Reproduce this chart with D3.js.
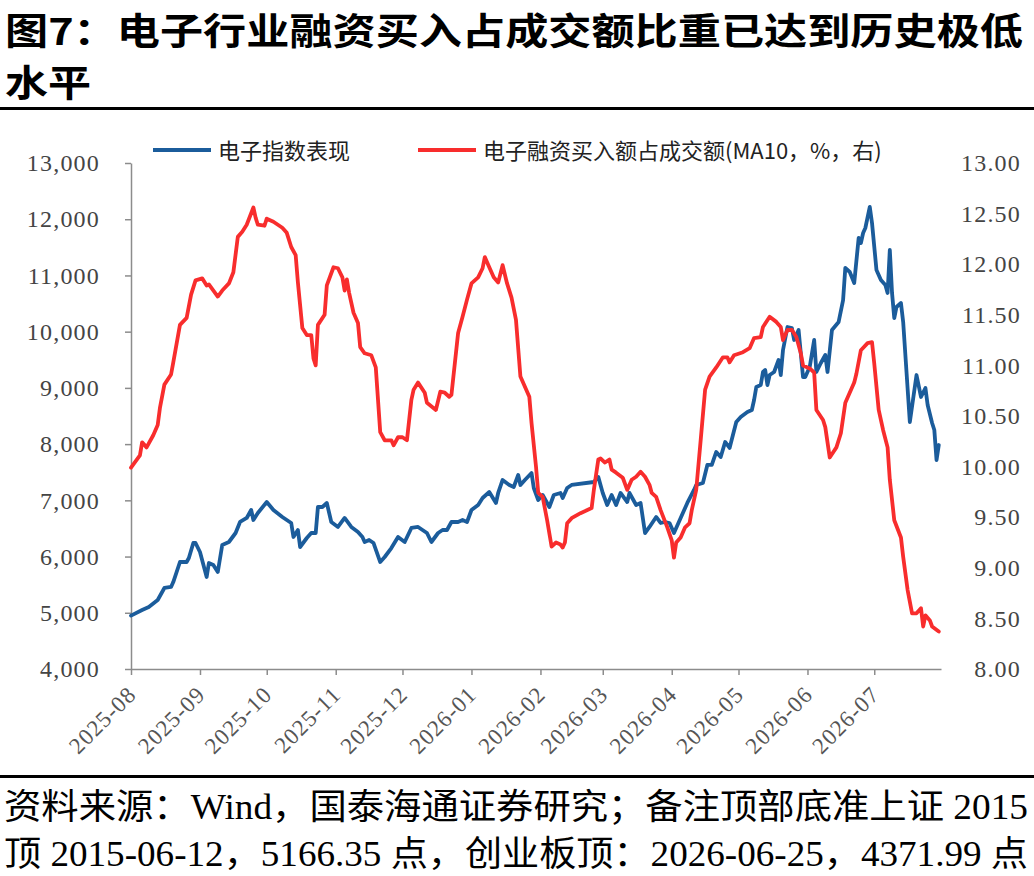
<!DOCTYPE html>
<html><head><meta charset="utf-8">
<script src="https://cdn.jsdelivr.net/npm/d3@7"></script>
<style>body{margin:0;background:#fff}svg{display:block}</style>
</head><body>
<svg id="c" width="1034" height="876"></svg>
<script>
const titleLines = ["图7：电子行业融资买入占成交额比重已达到历史极低", "水平"];
const legendLabels = ["电子指数表现", "电子融资买入额占成交额(MA10，%，右)"];
const footerLines = ["资料来源：Wind，国泰海通证券研究；备注顶部底准上证 2015", "顶 2015-06-12，5166.35 点，创业板顶：2026-06-25，4371.99 点"];
const leftTicks = [4000,5000,6000,7000,8000,9000,10000,11000,12000,13000];
const rightTicks = [8,8.5,9,9.5,10,10.5,11,11.5,12,12.5,13];
const monthTicks = ["2025-08-01","2025-09-01","2025-10-01","2025-11-01","2025-12-01","2026-01-01","2026-02-01","2026-03-01","2026-04-01","2026-05-01","2026-06-01","2026-07-01"];
const dateRange = ["2025-08-01","2026-07-31"];

const indexSeries = [
["2025-08-01",4950],["2025-08-06",5049],["2025-08-09",5103],["2025-08-13",5227],["2025-08-16",5441],["2025-08-19",5459],["2025-08-20",5547],["2025-08-23",5903],["2025-08-26",5903],["2025-08-27",5974],["2025-08-29",6241],["2025-08-30",6241],
["2025-09-01",6081],["2025-09-04",5636],["2025-09-05",5885],["2025-09-07",5850],["2025-09-09",5725],["2025-09-11",6206],["2025-09-14",6259],["2025-09-17",6419],["2025-09-19",6615],["2025-09-22",6686],["2025-09-24",6828],["2025-09-25",6650],["2025-09-27",6775],
["2025-10-01",6970],["2025-10-04",6828],["2025-10-08",6704],["2025-10-12",6597],["2025-10-13",6348],["2025-10-15",6472],["2025-10-16",6170],["2025-10-19",6330],["2025-10-21",6419],["2025-10-23",6419],["2025-10-24",6881],["2025-10-26",6881],["2025-10-28",6953],["2025-10-30",6615],
["2025-11-02",6526],["2025-11-05",6686],["2025-11-08",6526],["2025-11-11",6437],["2025-11-13",6348],["2025-11-14",6259],["2025-11-16",6295],["2025-11-18",6241],["2025-11-21",5903],["2025-11-23",5992],["2025-11-26",6152],["2025-11-29",6348],
["2025-12-02",6259],["2025-12-05",6508],["2025-12-08",6526],["2025-12-10",6472],["2025-12-12",6419],["2025-12-14",6259],["2025-12-17",6419],["2025-12-19",6472],["2025-12-21",6472],["2025-12-23",6615],["2025-12-26",6615],["2025-12-28",6650],["2025-12-30",6615],
["2026-01-01",6828],["2026-01-04",6917],["2026-01-06",7042],["2026-01-09",7148],["2026-01-12",6953],["2026-01-13",7131],["2026-01-15",7362],["2026-01-18",7273],["2026-01-20",7237],["2026-01-22",7451],["2026-01-23",7273],["2026-01-25",7362],["2026-01-28",7486],["2026-01-29",7219],["2026-01-31",7006],
["2026-02-02",7095],["2026-02-05",6881],["2026-02-07",7095],["2026-02-10",7131],["2026-02-11",7042],["2026-02-13",7219],["2026-02-15",7273],["2026-02-25",7326],["2026-02-27",7415],
["2026-03-01",7131],["2026-03-03",6917],["2026-03-05",7095],["2026-03-07",6917],["2026-03-09",7131],["2026-03-12",6970],["2026-03-13",7131],["2026-03-16",6917],["2026-03-18",6953],["2026-03-20",6419],["2026-03-22",6526],["2026-03-25",6704],["2026-03-27",6597],["2026-03-29",6615],["2026-03-31",6597],
["2026-04-02",6419],["2026-04-05",6686],["2026-04-08",6953],["2026-04-11",7184],["2026-04-12",7273],["2026-04-15",7308],["2026-04-17",7629],["2026-04-19",7629],["2026-04-21",7860],["2026-04-23",7771],["2026-04-25",8038],["2026-04-27",7931],["2026-04-30",8393],
["2026-05-02",8482],["2026-05-05",8571],["2026-05-07",8607],["2026-05-08",8785],["2026-05-09",9016],["2026-05-11",9051],["2026-05-12",9283],["2026-05-13",9318],["2026-05-14",9051],["2026-05-15",9229],["2026-05-17",9283],["2026-05-19",9496],["2026-05-20",9229],["2026-05-21",9674],["2026-05-23",10083],["2026-05-25",10065],["2026-05-26",9852],["2026-05-28",10030],["2026-05-30",9194],["2026-05-31",9194],
["2026-06-02",9372],["2026-06-04",9852],["2026-06-05",9283],["2026-06-07",9443],["2026-06-09",9585],["2026-06-10",9283],["2026-06-12",10030],["2026-06-15",10172],["2026-06-17",10563],["2026-06-18",11133],["2026-06-20",11061],["2026-06-22",10866],["2026-06-24",11666],["2026-06-25",11577],["2026-06-26",11755],["2026-06-27",11844],["2026-06-29",12218],["2026-06-30",11933],
["2026-07-02",11097],["2026-07-04",10919],["2026-07-06",10830],["2026-07-07",10688],["2026-07-08",11453],["2026-07-09",10688],["2026-07-10",10243],["2026-07-11",10439],["2026-07-13",10510],["2026-07-14",10172],["2026-07-17",8393],["2026-07-20",9229],["2026-07-22",8838],["2026-07-24",8998],["2026-07-25",8696],["2026-07-27",8376],["2026-07-28",8251],["2026-07-29",7717],["2026-07-30",7984]
];

const marginSeries = [
["2025-08-01",9.99],["2025-08-05",10.11],["2025-08-06",10.24],["2025-08-08",10.19],["2025-08-11",10.31],["2025-08-13",10.41],["2025-08-14",10.58],["2025-08-16",10.81],["2025-08-19",10.91],["2025-08-20",11.03],["2025-08-23",11.40],["2025-08-26",11.47],["2025-08-28",11.70],["2025-08-30",11.84],
["2025-09-02",11.86],["2025-09-04",11.79],["2025-09-05",11.80],["2025-09-09",11.68],["2025-09-11",11.74],["2025-09-14",11.81],["2025-09-16",11.92],["2025-09-18",12.27],["2025-09-20",12.32],["2025-09-22",12.39],["2025-09-25",12.56],["2025-09-26",12.46],["2025-09-27",12.39],["2025-09-30",12.38],
["2025-10-01",12.45],["2025-10-04",12.42],["2025-10-08",12.36],["2025-10-10",12.31],["2025-10-12",12.17],["2025-10-14",12.09],["2025-10-15",11.82],["2025-10-17",11.37],["2025-10-19",11.30],["2025-10-21",11.30],["2025-10-22",11.07],["2025-10-23",11.00],["2025-10-24",11.40],["2025-10-27",11.50],["2025-10-28",11.79],["2025-10-31",11.97],
["2025-11-02",11.96],["2025-11-04",11.87],["2025-11-05",11.74],["2025-11-06",11.85],["2025-11-07",11.72],["2025-11-09",11.52],["2025-11-11",11.42],["2025-11-12",11.18],["2025-11-14",11.12],["2025-11-17",11.10],["2025-11-19",10.98],["2025-11-21",10.34],["2025-11-23",10.26],["2025-11-26",10.26],["2025-11-27",10.21],["2025-11-29",10.29],
["2025-12-01",10.29],["2025-12-03",10.26],["2025-12-05",10.66],["2025-12-06",10.76],["2025-12-08",10.83],["2025-12-11",10.73],["2025-12-12",10.63],["2025-12-16",10.56],["2025-12-18",10.74],["2025-12-20",10.73],["2025-12-22",10.69],["2025-12-23",10.71],["2025-12-26",11.32],["2025-12-28",11.48],["2025-12-30",11.65],
["2026-01-01",11.81],["2026-01-04",11.87],["2026-01-06",11.96],["2026-01-07",12.07],["2026-01-09",11.97],["2026-01-11",11.87],["2026-01-13",11.82],["2026-01-15",11.99],["2026-01-17",11.81],["2026-01-19",11.67],["2026-01-21",11.45],["2026-01-23",10.89],["2026-01-27",10.69],["2026-01-28",10.43],["2026-01-30",10.00],["2026-01-31",9.74],
["2026-02-02",9.70],["2026-02-04",9.47],["2026-02-06",9.21],["2026-02-08",9.25],["2026-02-10",9.23],["2026-02-11",9.20],["2026-02-12",9.25],["2026-02-13",9.44],["2026-02-15",9.49],["2026-02-19",9.54],["2026-02-24",9.59],["2026-02-25",9.77],["2026-02-27",10.07],["2026-02-28",10.08],
["2026-03-02",10.04],["2026-03-04",10.07],["2026-03-05",9.97],["2026-03-07",9.94],["2026-03-10",9.89],["2026-03-12",9.77],["2026-03-14",9.87],["2026-03-16",9.90],["2026-03-18",9.95],["2026-03-20",9.90],["2026-03-22",9.82],["2026-03-23",9.74],["2026-03-25",9.70],["2026-03-27",9.57],["2026-03-30",9.40],
["2026-04-01",9.27],["2026-04-02",9.10],["2026-04-03",9.25],["2026-04-05",9.30],["2026-04-07",9.40],["2026-04-09",9.44],["2026-04-10",9.57],["2026-04-12",9.77],["2026-04-14",10.26],["2026-04-16",10.76],["2026-04-18",10.89],["2026-04-21",10.98],["2026-04-24",11.08],["2026-04-26",11.08],["2026-04-27",11.03],["2026-04-29",11.10],
["2026-05-03",11.13],["2026-05-06",11.17],["2026-05-08",11.27],["2026-05-11",11.28],["2026-05-12",11.38],["2026-05-15",11.48],["2026-05-18",11.43],["2026-05-20",11.38],["2026-05-21",11.25],["2026-05-23",11.35],["2026-05-25",11.35],["2026-05-27",11.28],["2026-05-29",11.12],["2026-05-30",11.00],
["2026-06-02",10.97],["2026-06-04",10.93],["2026-06-05",10.56],["2026-06-08",10.46],["2026-06-09",10.39],["2026-06-11",10.09],["2026-06-14",10.19],["2026-06-16",10.33],["2026-06-18",10.63],["2026-06-22",10.83],["2026-06-23",10.92],["2026-06-25",11.15],["2026-06-28",11.22],["2026-06-30",11.23],
["2026-07-01",11.02],["2026-07-03",10.56],["2026-07-05",10.36],["2026-07-07",10.19],["2026-07-08",9.87],["2026-07-10",9.47],["2026-07-13",9.30],["2026-07-14",9.11],["2026-07-16",8.78],["2026-07-18",8.55],["2026-07-20",8.55],["2026-07-22",8.60],["2026-07-23",8.42],["2026-07-24",8.53],["2026-07-26",8.48],["2026-07-27",8.42],["2026-07-30",8.37]
];

const parse = d3.timeParse("%Y-%m-%d");
const svg = d3.select("#c");
const CJK = "'Noto Sans CJK SC', sans-serif";
const SERIF = "'Liberation Serif', 'Noto Sans CJK SC', serif";
const BLUE = "#1b5c9b", RED = "#f82d2d", AXIS = "#8c8c8c", LABEL = "#555";

// Title
svg.append("text").attr("x", 5).attr("y", 45).attr("font-family", CJK).attr("font-weight", 700)
  .attr("font-size", 37).attr("fill", "#000").attr("textLength", 1018).attr("lengthAdjust", "spacingAndGlyphs").text(titleLines[0]);
svg.append("text").attr("x", 5).attr("y", 97).attr("font-family", CJK).attr("font-weight", 700)
  .attr("font-size", 37).attr("fill", "#000").attr("textLength", 86).attr("lengthAdjust", "spacingAndGlyphs").text(titleLines[1]);
svg.append("rect").attr("x", 0).attr("y", 107).attr("width", 1034).attr("height", 3).attr("fill", "#000");
svg.append("rect").attr("x", 0).attr("y", 775).attr("width", 1034).attr("height", 3).attr("fill", "#000");

// Footer
svg.append("text").attr("x", 4).attr("y", 819).attr("font-family", SERIF).attr("font-size", 35)
  .attr("fill", "#000").attr("textLength", 1024).attr("lengthAdjust", "spacingAndGlyphs").text(footerLines[0]);
svg.append("text").attr("x", 4).attr("y", 866).attr("font-family", SERIF).attr("font-size", 35)
  .attr("fill", "#000").attr("textLength", 1024).attr("lengthAdjust", "spacingAndGlyphs").text(footerLines[1]);

// Scales
const x = d3.scaleTime().domain(dateRange.map(parse)).range([131, 941]);
const yL = d3.scaleLinear().domain([4000, 13000]).range([669, 163]);
const yR = d3.scaleLinear().domain([8, 13]).range([669, 163]);

// Left axis
const gL = svg.append("g").attr("transform", "translate(131,0)")
  .call(d3.axisLeft(yL).tickValues(leftTicks).tickFormat(d3.format(",")).tickSize(6).tickSizeOuter(0).tickPadding(25));
gL.select(".domain").attr("stroke", AXIS).attr("stroke-width", 1.5);
gL.selectAll(".tick line").attr("stroke", AXIS).attr("stroke-width", 1.5);
gL.selectAll(".tick text").attr("font-family", SERIF).attr("font-size", 24).attr("fill", "#444").attr("letter-spacing", 1.2);

// Right axis (labels only)
const gR = svg.append("g").attr("transform", "translate(941,0)")
  .call(d3.axisRight(yR).tickValues(rightTicks).tickFormat(d3.format(".2f")).tickSize(0));
gR.select(".domain").remove();
gR.selectAll(".tick text").attr("x", 80).attr("text-anchor", "end").attr("font-family", SERIF).attr("font-size", 24).attr("fill", "#444").attr("letter-spacing", 1.2);

// Bottom axis
const gB = svg.append("g").attr("transform", "translate(0,669)")
  .call(d3.axisBottom(x).tickValues(monthTicks.map(parse)).tickFormat(d3.timeFormat("%Y-%m")).tickSize(6).tickSizeOuter(0));
gB.select(".domain").attr("stroke", AXIS).attr("stroke-width", 1.5);
gB.selectAll(".tick line").attr("stroke", AXIS).attr("stroke-width", 1.5);
gB.selectAll(".tick text").attr("x", 0).attr("y", 0).attr("dy", 0)
  .attr("text-anchor", "end").attr("transform", "translate(6,27) rotate(-45)")
  .attr("font-family", SERIF).attr("font-size", 23).attr("fill", LABEL).attr("letter-spacing", 1);

// Lines
const lineL = d3.line().x(d => x(parse(d[0]))).y(d => yL(d[1]));
const lineR = d3.line().x(d => x(parse(d[0]))).y(d => yR(d[1]));
svg.append("path").datum(indexSeries).attr("d", lineL).attr("fill", "none").attr("stroke", BLUE)
  .attr("stroke-width", 3.8).attr("stroke-linejoin", "round").attr("stroke-linecap", "round");
svg.append("path").datum(marginSeries).attr("d", lineR).attr("fill", "none").attr("stroke", RED)
  .attr("stroke-width", 3.8).attr("stroke-linejoin", "round").attr("stroke-linecap", "round");

// Legend
const legend = [{label: legendLabels[0], color: BLUE, x: 153}, {label: legendLabels[1], color: RED, x: 418}];
legend.forEach(l => {
  svg.append("line").attr("x1", l.x).attr("x2", l.x + 58).attr("y1", 150).attr("y2", 150)
    .attr("stroke", l.color).attr("stroke-width", 4);
  svg.append("text").attr("x", l.x + 65).attr("y", 158.5).attr("font-family", CJK)
    .attr("font-size", 22).attr("fill", "#222").text(l.label);
});
</script>
</body></html>
